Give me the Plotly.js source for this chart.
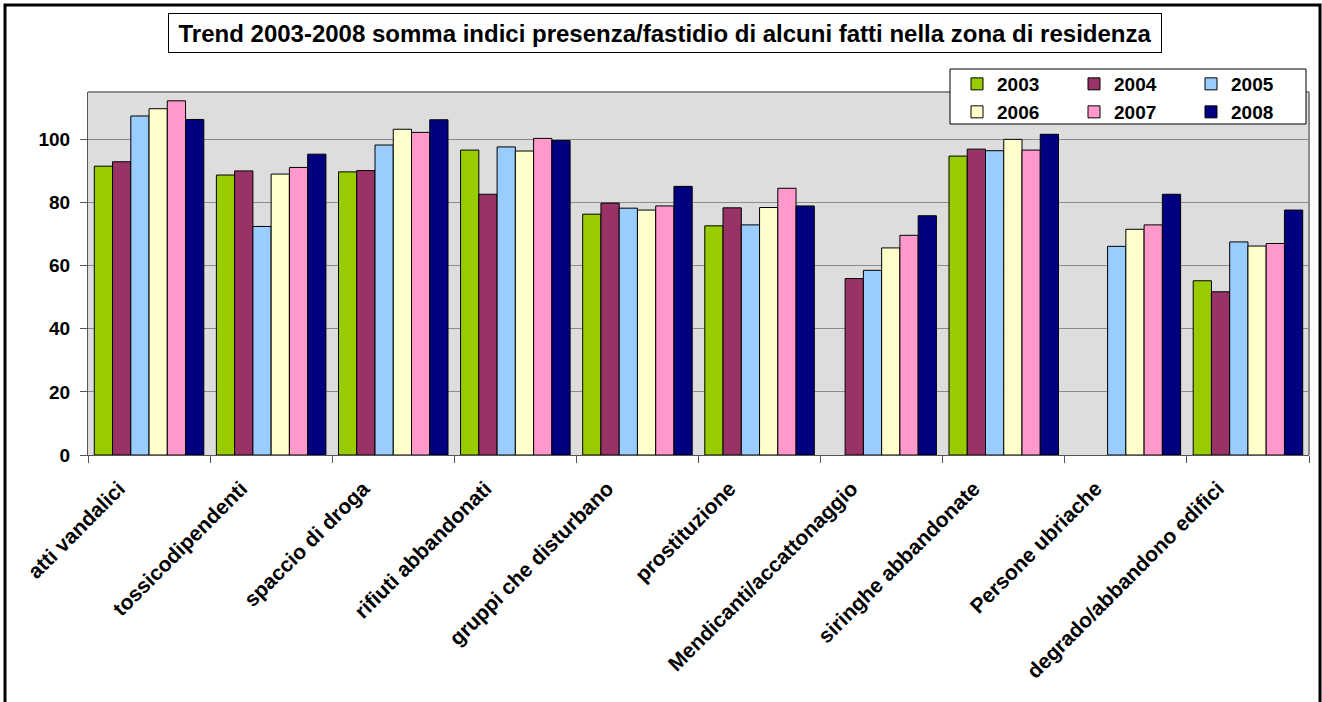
<!DOCTYPE html>
<html>
<head>
<meta charset="utf-8">
<script src="https://cdn.plot.ly/plotly-3.0.1.min.js"></script>
<style>html,body{margin:0;padding:0;background:#fff;}#chart{width:1322px;height:702px;}</style>
</head>
<body>
<div id="chart"></div>
<script>
const categories = ["atti vandalici","tossicodipendenti","spaccio di droga","rifiuti abbandonati","gruppi che disturbano","prostituzione","Mendicanti/accattonaggio","siringhe abbandonate","Persone ubriache","degrado/abbandono edifici"];
const years = ["2003","2004","2005","2006","2007","2008"];
const v2003 = [91.5, 88.7, 89.7, 96.6, 76.3, 72.6, null, 94.7, null, 55.2];
const v2004 = [92.9, 90.0, 90.1, 82.6, 79.8, 78.3, 55.9, 96.9, null, 51.7];
const v2005 = [107.4, 72.4, 98.2, 97.6, 78.2, 72.9, 58.5, 96.4, 66.1, 67.5];
const v2006 = [109.7, 89.0, 103.2, 96.3, 77.6, 78.4, 65.6, 100.0, 71.5, 66.2];
const v2007 = [112.2, 91.1, 102.2, 100.3, 78.9, 84.5, 69.6, 96.6, 72.9, 67.0];
const v2008 = [106.3, 95.3, 106.2, 99.6, 85.1, 78.9, 75.8, 101.6, 82.6, 77.6];
const seriesValues = [v2003, v2004, v2005, v2006, v2007, v2008];
const colors = ["#99CC00","#993366","#99CCFF","#FFFFCC","#FF99CC","#000080"];
const titleText = "Trend 2003-2008 somma indici presenza/fastidio di alcuni fatti nella zona di residenza";

const FONT = "Arial, 'Liberation Sans', sans-serif";

const traces = years.map((y, i) => ({
  type: "bar",
  name: y,
  x: categories,
  y: seriesValues[i],
  marker: {color: colors[i], line: {color: "#000000", width: 1}},
  legend: i < 3 ? "legend" : "legend2",
  hoverinfo: "x+y+name"
}));

// pixel helpers for paper coords
const L = 88, R = 1309, T = 92, B = 455;
const px = x => (x - L) / (R - L);
const py = y => (B - y) / (B - T);

const legendCommon = {
  orientation: "h",
  bgcolor: "rgba(0,0,0,0)",
  borderwidth: 0,
  entrywidth: 72,
  xanchor: "left",
  yanchor: "middle",
  font: {family: FONT, size: 19, color: "#000", weight: 700},
  itemclick: false,
  itemdoubleclick: false
};

const layout = {
  width: 1322,
  height: 702,
  margin: {l: L, r: 1322 - R, t: T, b: 702 - B, pad: 0},
  paper_bgcolor: "#ffffff",
  plot_bgcolor: "#DDDDDD",
  font: {family: FONT, color: "#000"},
  barmode: "group",
  bargap: 0.103,
  bargroupgap: 0,
  showlegend: true,
  legend: Object.assign({}, legendCommon, {x: px(957), y: py(84)}),
  legend2: Object.assign({}, legendCommon, {x: px(957), y: py(112)}),
  xaxis: {
    type: "category",
    tickangle: -45,
    tickson: "boundaries",
    ticks: "outside",
    ticklen: 7,
    tickcolor: "#555555",
    showline: true,
    linecolor: "#555555",
    linewidth: 1,
    mirror: false,
    showgrid: false,
    ticklabelshift: -30,
    ticklabelstandoff: 12,
    tickfont: {family: FONT, size: 21, color: "#000", weight: 700},
    automargin: false
  },
  yaxis: {
    range: [0, 115],
    dtick: 20,
    tick0: 0,
    ticks: "outside",
    ticklen: 7,
    tickcolor: "#555555",
    showline: true,
    linecolor: "#555555",
    linewidth: 1,
    showgrid: true,
    gridcolor: "#8c8c8c",
    gridwidth: 1,
    zeroline: false,
    ticklabelstandoff: 6,
    tickfont: {family: FONT, size: 19, color: "#000", weight: 700},
    automargin: false
  },
  shapes: [
    {type: "line", xref: "paper", yref: "paper", x0: 0, x1: 1, y0: 1, y1: 1, line: {color: "#8c8c8c", width: 2}},
    {type: "line", xref: "paper", yref: "paper", x0: 1, x1: 1, y0: 0, y1: 1, line: {color: "#8c8c8c", width: 2}},
    {type: "rect", xref: "paper", yref: "paper", layer: "above",
     x0: px(950), x1: px(1306), y0: py(124), y1: py(69),
     fillcolor: "#ffffff", line: {color: "#000000", width: 1}},
    {type: "rect", xref: "paper", yref: "paper", layer: "above",
     x0: px(5), x1: px(1320), y0: py(712), y1: py(5),
     fillcolor: "rgba(0,0,0,0)", line: {color: "#000000", width: 3}}
  ],
  annotations: [
    {text: titleText, xref: "paper", yref: "paper", x: px(665), y: py(33),
     xanchor: "center", yanchor: "middle", showarrow: false,
     width: 990, height: 36, borderpad: 1, bordercolor: "#000000", borderwidth: 1,
     bgcolor: "#ffffff",
     font: {family: FONT, size: 24, color: "#000", weight: 700}}
  ]
};

Plotly.newPlot("chart", traces, layout, {displayModeBar: false, staticPlot: false});
</script>
</body>
</html>
